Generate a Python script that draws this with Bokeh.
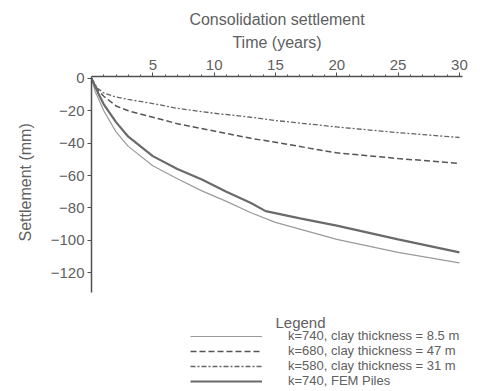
from bokeh.plotting import figure
from bokeh.models import Range1d, Legend, LegendItem, FixedTicker, Label, Title
from bokeh.embed import file_html
from bokeh.resources import INLINE

# ---- data ----
t_85 = [0, 0.3, 0.6, 1, 2, 3, 5, 7, 9, 11, 13, 15, 20, 25, 30]
s_85 = [0, -8, -13, -20, -33, -42, -54, -62, -69.5, -76, -83, -89, -99.5, -107.5, -114]

t_47 = [0, 0.5, 1, 2, 3, 5, 7, 10, 13, 15, 20, 25, 30]
s_47 = [0, -7, -11, -17, -20, -24, -28, -32.5, -37, -39.5, -46, -49.5, -52.5]

t_31 = [0, 0.5, 1, 2, 3, 5, 7, 10, 13, 15, 20, 25, 30]
s_31 = [0, -6, -9, -11.5, -13, -15.5, -18.5, -21.5, -24, -26, -30, -33.5, -36.5]

t_fem = [0, 0.3, 0.6, 1, 2, 3, 5, 7, 9, 11, 13, 14.2, 17, 20, 25, 30]
s_fem = [0, -5, -10, -16, -27, -36, -48, -56, -62.5, -70, -77, -82, -86.5, -91, -99.5, -107.5]

x_ticks = [5, 10, 15, 20, 25, 30]
x_minor = list(range(1, 31))
y_ticks = [0, -20, -40, -60, -80, -100, -120]
legend_labels = [
    "k=740, clay thickness = 8.5 m",
    "k=680, clay thickness = 47 m",
    "k=580, clay thickness = 31 m",
    "k=740, FEM Piles",
]

TXT = "#606060"
AX = "#505050"
FONT = "Liberation Sans"

# frame extends below the axis so the legend can sit inside it
p = figure(frame_width=371, frame_height=315, output_backend="svg", toolbar_location=None,
           x_range=Range1d(0, 30.25), y_range=Range1d(-193.5, 1.2),
           x_axis_location="above",
           min_border_left=91, min_border_right=29, min_border_top=76, min_border_bottom=0,
           title="Consolidation settlement")
p.outline_line_color = None
p.grid.visible = False
p.background_fill_color = "white"

p.title.text_font = FONT
p.title.text_font_size = "16px"
p.title.text_font_style = "normal"
p.title.text_color = TXT
p.title.align = "center"
p.title.standoff = 6

xa = p.xaxis[0]
xa.axis_label = "Time (years)"
xa.ticker = FixedTicker(ticks=x_ticks, minor_ticks=x_minor)
ya = p.yaxis[0]
ya.ticker = FixedTicker(ticks=y_ticks, minor_ticks=[])
ya.bounds = (-132, 1.2)
for a in (xa, ya):
    a.axis_line_color = AX
    a.axis_line_width = 1.5
    a.major_tick_line_color = AX
    a.minor_tick_line_color = AX
    a.major_tick_in = 0
    a.major_tick_out = 4
    a.minor_tick_in = 0
    a.minor_tick_out = 2
    a.major_label_text_font = FONT
    a.major_label_text_font_size = "15px"
    a.major_label_text_color = TXT
    a.axis_label_text_font = FONT
    a.axis_label_text_font_size = "16px"
    a.axis_label_text_font_style = "normal"
    a.axis_label_text_color = TXT
xa.major_label_standoff = 3
xa.axis_label_standoff = 6
ya.major_label_standoff = 3

# y-axis title placed along the drawn part of the axis
p.add_layout(Title(text="Settlement (mm)", align="left", offset=150, standoff=28,
                   text_font=FONT, text_font_size="16px", text_font_style="normal",
                   text_color=TXT), "left")

r85 = p.line(t_85, s_85, line_color="#9a9a9a", line_width=1.2)
r47 = p.line(t_47, s_47, line_color="#555555", line_width=1.5, line_dash="6 3")
r31 = p.line(t_31, s_31, line_color="#666666", line_width=1.3, line_dash="5 2 2 2")
rfem = p.line(t_fem, s_fem, line_color="#6a6a6a", line_width=2.2)

legend = Legend(items=[LegendItem(label=l, renderers=[r]) for l, r in
                       zip(legend_labels, [r85, r47, r31, rfem])],
                location=(99, 3), orientation="vertical",
                glyph_width=72, glyph_height=10, label_height=10, label_standoff=26,
                spacing=0, padding=0, margin=0,
                border_line_color=None, background_fill_alpha=0,
                label_text_font=FONT, label_text_font_size="13px",
                label_text_color=TXT)
p.add_layout(legend)

p.add_layout(Label(x=184, y=61, x_units="screen", y_units="screen", text="Legend",
                   text_font=FONT, text_font_size="15px", text_color=TXT))

open("out.html", "w").write(file_html(p, INLINE))
